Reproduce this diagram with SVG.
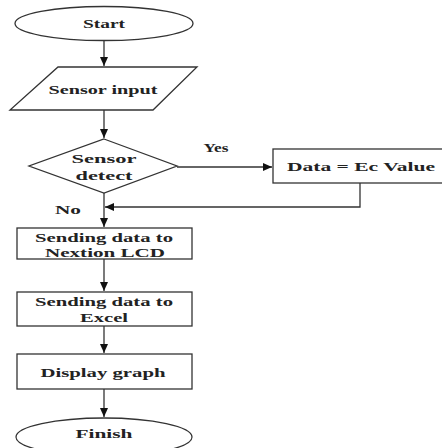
<svg xmlns="http://www.w3.org/2000/svg" width="442" height="448" viewBox="0 0 442 448">
<defs>
<marker id="arr" markerWidth="10" markerHeight="10" refX="9" refY="5" orient="auto" markerUnits="userSpaceOnUse">
<path d="M0,1 L9,5 L0,9 Z" fill="#111"/>
</marker>
<style>
.s{fill:#fff;stroke:#333;stroke-width:1.3}
.t{font-family:"Liberation Serif","Times New Roman",serif;font-weight:bold;font-size:13.5px;fill:#222;text-anchor:middle}
.c{fill:none;stroke:#333;stroke-width:1.3}
</style>
</defs>
<rect width="442" height="448" fill="#fff"/>
<g id="connectors">
<line class="c" x1="104" y1="40" x2="104" y2="66" marker-end="url(#arr)"/>
<line class="c" x1="104" y1="110" x2="104" y2="138" marker-end="url(#arr)"/>
<line class="c" x1="104" y1="193" x2="104" y2="227" marker-end="url(#arr)"/>
<line class="c" x1="177" y1="167" x2="272" y2="167" marker-end="url(#arr)"/>
<polyline class="c" points="360,183 360,207 105,207" marker-end="url(#arr)"/>
<line class="c" x1="104" y1="259" x2="104" y2="291" marker-end="url(#arr)"/>
<line class="c" x1="104" y1="326" x2="104" y2="353" marker-end="url(#arr)"/>
<line class="c" x1="104" y1="389" x2="104" y2="417" marker-end="url(#arr)"/>
<text class="t" x="216" y="152" textLength="25" lengthAdjust="spacingAndGlyphs">Yes</text>
<text class="t" x="68" y="214" textLength="26" lengthAdjust="spacingAndGlyphs">No</text>
</g>
<g id="start">
<ellipse class="s" cx="104" cy="23.5" rx="89" ry="17"/>
<text class="t" x="104" y="28" textLength="42" lengthAdjust="spacingAndGlyphs">Start</text>
</g>
<g id="sensor-input">
<polygon class="s" points="58,67 197,67 153,110 10,110"/>
<text class="t" x="103" y="94" textLength="109" lengthAdjust="spacingAndGlyphs">Sensor input</text>
</g>
<g id="sensor-detect">
<polygon class="s" points="104,139 177,166 104,193 29,166"/>
<text class="t" x="104" y="162.5" textLength="65" lengthAdjust="spacingAndGlyphs">Sensor</text>
<text class="t" x="104" y="179.5" textLength="57" lengthAdjust="spacingAndGlyphs">detect</text>
</g>
<g id="data-ec">
<rect class="s" x="273" y="149" width="180" height="34"/>
<text class="t" x="361" y="170.5" textLength="148" lengthAdjust="spacingAndGlyphs">Data = Ec Value</text>
</g>
<g id="send-lcd">
<rect class="s" x="17" y="228" width="175" height="31"/>
<text class="t" x="104" y="241.5" textLength="138" lengthAdjust="spacingAndGlyphs">Sending data to</text>
<text class="t" x="105" y="256.5" textLength="120" lengthAdjust="spacingAndGlyphs">Nextion LCD</text>
</g>
<g id="send-excel">
<rect class="s" x="17" y="292" width="175" height="34"/>
<text class="t" x="104" y="305.5" textLength="138" lengthAdjust="spacingAndGlyphs">Sending data to</text>
<text class="t" x="104" y="321.5" textLength="48" lengthAdjust="spacingAndGlyphs">Excel</text>
</g>
<g id="display-graph">
<rect class="s" x="17" y="354" width="175" height="35"/>
<text class="t" x="103" y="376.5" textLength="125" lengthAdjust="spacingAndGlyphs">Display graph</text>
</g>
<g id="finish">
<ellipse class="s" cx="104" cy="437" rx="88" ry="19"/>
<text class="t" x="104" y="437.5" textLength="57" lengthAdjust="spacingAndGlyphs">Finish</text>
</g>
</svg>
